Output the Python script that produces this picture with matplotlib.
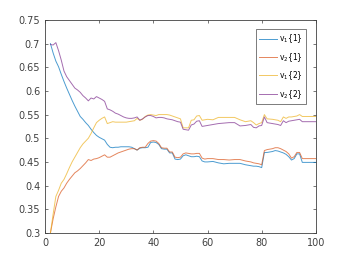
import matplotlib
matplotlib.use("Agg")
import matplotlib.pyplot as plt

t = list(range(2, 61)) + [62, 64, 66, 68, 70, 72, 74, 76, 77, 78, 79, 80, 81, 82,
                          84, 85, 86, 87, 88, 89, 90, 91, 92, 93, 94, 95, 100]

v1_1 = [0.700, 0.680, 0.663, 0.651, 0.635, 0.620, 0.606, 0.593, 0.580, 0.568,
        0.557, 0.546, 0.540, 0.533, 0.527, 0.519, 0.512, 0.506, 0.502, 0.499,
        0.496, 0.487, 0.481, 0.480, 0.481, 0.481, 0.482, 0.482, 0.482, 0.482,
        0.481, 0.478, 0.475, 0.479, 0.480, 0.480, 0.481, 0.491, 0.492, 0.491,
        0.487, 0.478, 0.477, 0.477, 0.469, 0.469, 0.456, 0.455, 0.456, 0.463,
        0.465, 0.463, 0.461, 0.461, 0.462, 0.461, 0.452, 0.450, 0.450,
        0.451, 0.448, 0.446, 0.447, 0.447, 0.447, 0.444, 0.442, 0.441, 0.441,
        0.440, 0.438, 0.470, 0.470, 0.472, 0.474, 0.473, 0.471, 0.469, 0.466,
        0.461, 0.454, 0.457, 0.467, 0.467, 0.449, 0.449]

v2_1 = [0.300, 0.330, 0.355, 0.377, 0.388, 0.395, 0.405, 0.413, 0.420, 0.427,
        0.431, 0.436, 0.442, 0.448, 0.455, 0.453, 0.456, 0.457, 0.459, 0.462,
        0.465, 0.460, 0.460, 0.463, 0.466, 0.469, 0.471, 0.473, 0.475, 0.477,
        0.478, 0.478, 0.475, 0.480, 0.481, 0.481, 0.489, 0.494, 0.495, 0.494,
        0.489, 0.480, 0.479, 0.479, 0.471, 0.471, 0.460, 0.459, 0.460, 0.467,
        0.469, 0.468, 0.467, 0.467, 0.468, 0.468, 0.458, 0.456, 0.457,
        0.457, 0.455, 0.455, 0.454, 0.455, 0.455, 0.452, 0.450, 0.448, 0.447,
        0.446, 0.444, 0.474, 0.476, 0.478, 0.480, 0.480, 0.478, 0.475, 0.472,
        0.467, 0.458, 0.461, 0.470, 0.470, 0.457, 0.457]

v1_2 = [0.300, 0.340, 0.377, 0.390, 0.405, 0.413, 0.425, 0.438, 0.450, 0.460,
        0.470, 0.480, 0.488, 0.494, 0.500, 0.510, 0.522, 0.533, 0.538, 0.542,
        0.545, 0.531, 0.533, 0.535, 0.534, 0.534, 0.534, 0.534, 0.534, 0.535,
        0.536, 0.537, 0.542, 0.538, 0.540, 0.546, 0.549, 0.550, 0.549, 0.548,
        0.550, 0.550, 0.550, 0.550, 0.549, 0.547, 0.545, 0.543, 0.541, 0.522,
        0.522, 0.522, 0.538, 0.539, 0.547, 0.548, 0.538, 0.539, 0.540,
        0.539, 0.544, 0.544, 0.544, 0.544, 0.539, 0.535, 0.537, 0.533, 0.528,
        0.531, 0.533, 0.550, 0.541, 0.540, 0.539, 0.538, 0.535, 0.545, 0.542,
        0.545, 0.545, 0.546, 0.547, 0.550, 0.546, 0.546]

v2_2 = [0.698, 0.697, 0.702, 0.685, 0.665, 0.642, 0.630, 0.622, 0.614, 0.606,
        0.602, 0.597, 0.590, 0.585, 0.579, 0.585, 0.583, 0.588, 0.585, 0.582,
        0.578, 0.562, 0.560, 0.557, 0.553, 0.551, 0.548, 0.545, 0.543, 0.542,
        0.542, 0.543, 0.545, 0.538, 0.541, 0.545, 0.548, 0.548, 0.546, 0.543,
        0.544, 0.544, 0.543, 0.541, 0.540, 0.539, 0.537, 0.535, 0.534, 0.519,
        0.518, 0.517, 0.528, 0.530, 0.536, 0.537, 0.525, 0.526, 0.527,
        0.529, 0.531, 0.532, 0.533, 0.533, 0.526, 0.527, 0.529, 0.523, 0.522,
        0.526, 0.527, 0.545, 0.533, 0.531, 0.530, 0.529, 0.527, 0.537, 0.533,
        0.536, 0.537, 0.538, 0.539, 0.540, 0.535, 0.535]

labels = [r"v$_1${1}", r"v$_2${1}", r"v$_1${2}", r"v$_2${2}"]
colors = ["#0072BD", "#D95319", "#EDB120", "#7E2F8E"]

fig = plt.figure(figsize=(3.49, 2.62), dpi=100)
ax = fig.add_axes([0.129, 0.111, 0.776, 0.813])

for y, lab, c in zip([v1_1, v2_1, v1_2, v2_2], labels, colors):
    ax.plot(t, y, color=c, linewidth=0.7, alpha=0.7, label=lab)

ax.set_xlim(0, 100)
ax.set_ylim(0.3, 0.75)
ax.set_xticks([0, 20, 40, 60, 80, 100])
ax.set_yticks([0.3, 0.35, 0.4, 0.45, 0.5, 0.55, 0.6, 0.65, 0.7, 0.75])
ax.set_yticklabels(["0.3", "0.35", "0.4", "0.45", "0.5", "0.55", "0.6", "0.65", "0.7", "0.75"])
ax.tick_params(direction="in", top=True, right=True, labelsize=7,
               length=2.5, width=0.5, colors="#404040")
for s in ax.spines.values():
    s.set_color("#404040")
    s.set_linewidth(0.6)

leg = ax.legend(loc="upper right", bbox_to_anchor=(0.97, 0.965), fontsize=5.5,
                fancybox=False, edgecolor="#404040", handlelength=2.3,
                labelspacing=0.75, borderpad=0.45, handletextpad=0.25,
                borderaxespad=0.2)
leg.get_frame().set_linewidth(0.6)

fig.savefig("out.png", dpi=100)
